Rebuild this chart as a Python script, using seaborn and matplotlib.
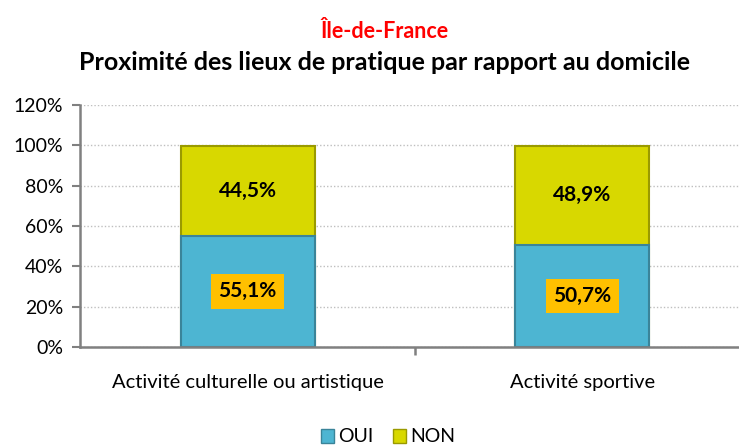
import matplotlib
matplotlib.use("Agg")
import matplotlib.pyplot as plt
import matplotlib.ticker as mtick
import pandas as pd
import seaborn as sns
from matplotlib.patches import Patch

# --------- Values --------- #
CATEGORIES = ["Activité culturelle ou artistique", "Activité sportive"]
OUI = [55.1, 50.7]
NON = [44.5, 48.9]
SERIES = ["OUI", "NON"]
COLOR_OUI = "#4DB5D2"
COLOR_NON = "#D8D800"

sns.set_style("white")
plt.rcParams["font.family"] = ["Lato", "DejaVu Sans"]
plt.rcParams["text.color"] = "black"
plt.rcParams["xtick.color"] = "black"
plt.rcParams["ytick.color"] = "black"

df = pd.DataFrame({"cat": CATEGORIES, "OUI": OUI, "NON": NON})
df["total"] = df["OUI"] + df["NON"]

fig = plt.figure(figsize=(7.39, 4.46), dpi=100)
ax = fig.add_axes([80 / 739, 99 / 446, 670 / 739, 242 / 446])

# stacked: total first (yellow), OUI on top (blue)
sns.barplot(data=df, x="cat", y="total", color=COLOR_NON, width=0.4, saturation=1,
            edgecolor="#9A9A00", linewidth=1.5, ax=ax)
sns.barplot(data=df, x="cat", y="OUI", color=COLOR_OUI, width=0.4, saturation=1,
            edgecolor="#3A8499", linewidth=1.5, ax=ax)

for i, (o, n) in enumerate(zip(OUI, NON)):
    ax.text(i, o / 2, f"{o:.1f}%".replace(".", ","), ha="center", va="center",
            fontsize=15, fontweight="bold",
            bbox=dict(boxstyle="square,pad=0.35", facecolor="#FFC000", edgecolor="none"))
    ax.text(i, o + n / 2, f"{n:.1f}%".replace(".", ","), ha="center", va="center",
            fontsize=15, fontweight="bold")

ax.set_xlim(-0.5, 1.5)
ax.set_ylim(0, 120)
ax.yaxis.set_major_locator(mtick.MultipleLocator(20))
ax.yaxis.set_major_formatter(mtick.FuncFormatter(lambda v, _: f"{v:.0f}%"))
ax.set_xticks([0.5])
ax.set_xticklabels([""])
ax.tick_params(axis="x", bottom=True, length=6, color="#808080", width=1.8)
ax.tick_params(axis="y", left=True, length=6, color="#808080", labelcolor="black",
               width=1.5, labelsize=14, pad=6)
for lbl_x, name in enumerate(CATEGORIES):
    ax.text(lbl_x, -0.11, name, transform=ax.get_xaxis_transform(), ha="center", va="top",
            fontsize=14.5)
ax.set_xlabel("")
ax.set_ylabel("")
ax.grid(axis="y", linestyle=(0, (1, 1.5)), color="#BFBFBF", linewidth=1)
ax.set_axisbelow(True)
for s in ["top", "right"]:
    ax.spines[s].set_visible(False)
for s in ["left", "bottom"]:
    ax.spines[s].set_color("#808080")
    ax.spines[s].set_linewidth(1.8)

fig.text(0.52, 1 - 32 / 446, "Île-de-France", color="#FF0000", fontsize=15.5,
         fontweight="bold", ha="center", va="center")
fig.text(0.52, 1 - 63 / 446, "Proximité des lieux de pratique par rapport au domicile",
         fontsize=18, fontweight="bold", ha="center", va="center")

handles = [Patch(facecolor=COLOR_OUI, edgecolor="#3A8499"),
           Patch(facecolor=COLOR_NON, edgecolor="#9A9A00")]
fig.legend(handles, SERIES, loc="center", bbox_to_anchor=(0.525, 1 - 437 / 446), ncol=2,
           frameon=False, fontsize=14, handlelength=0.7, handleheight=0.7,
           handletextpad=0.2, columnspacing=1.0)

fig.savefig("out.png", dpi=100)
